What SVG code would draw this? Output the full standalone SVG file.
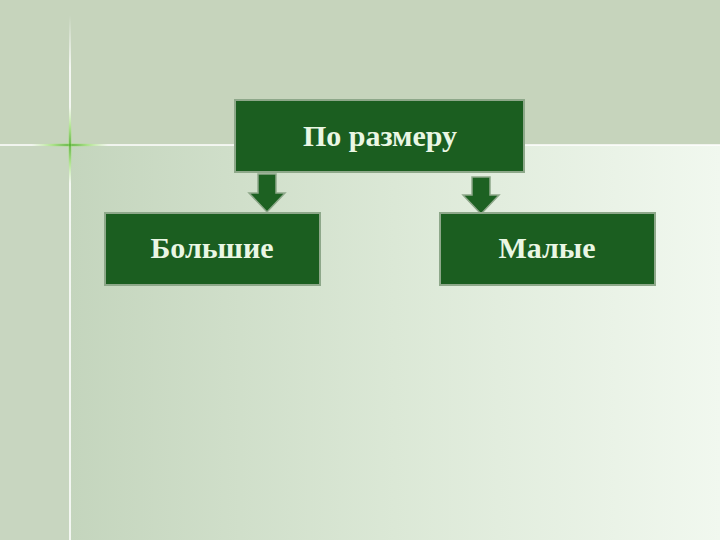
<svg xmlns="http://www.w3.org/2000/svg" width="720" height="540" viewBox="0 0 720 540">
<defs>
<linearGradient id="bg" x1="0" y1="0" x2="1" y2="0">
<stop offset="0" stop-color="#c4d5bd"/>
<stop offset="0.5" stop-color="#dbe8d6"/>
<stop offset="1" stop-color="#f1f8ef"/>
</linearGradient>
<linearGradient id="vl" x1="0" y1="0" x2="0" y2="1">
<stop offset="0" stop-color="#ffffff" stop-opacity="0"/>
<stop offset="0.1" stop-color="#ffffff" stop-opacity="0.8"/>
<stop offset="1" stop-color="#ffffff" stop-opacity="0.8"/>
</linearGradient>
<radialGradient id="glow" cx="0.5" cy="0.5" r="0.5">
<stop offset="0" stop-color="#2e8b1a"/>
<stop offset="0.5" stop-color="#7fd64a" stop-opacity="0.6"/>
<stop offset="1" stop-color="#a8e878" stop-opacity="0"/>
</radialGradient>
<style>
.box{fill:#1b5e20;stroke:#8ea88a;stroke-width:2}
.lbl{font-family:"Liberation Serif","DejaVu Serif",serif;font-size:30px;font-weight:bold;fill:#eaf7e4;text-anchor:middle}
.arr{fill:#1d6122;stroke:#8ea88a;stroke-width:1.5}
</style>
</defs>
<rect x="0" y="0" width="720" height="540" fill="#c6d4bc"/>
<rect x="70" y="145" width="650" height="395" fill="url(#bg)"/>
<rect x="0" y="145" width="70" height="395" fill="#c8d6c0"/>
<rect x="69" y="15" width="2" height="525" fill="url(#vl)"/>
<rect x="0" y="144" width="720" height="2" fill="#ffffff" opacity="0.75"/>
<ellipse cx="70" cy="145" rx="40" ry="2" fill="url(#glow)"/>
<ellipse cx="70" cy="145" rx="2" ry="40" fill="url(#glow)"/>
<g id="connectors">
<path class="arr" d="M258,174 H276 V193 H285 L267,212 L249,193 H258 Z"/>
<path class="arr" d="M472,177 H490 V195 H499 L481,214 L463,195 H472 Z"/>
</g>
<g id="node-top">
<rect class="box" x="235" y="100" width="289" height="72"/>
<text class="lbl" x="380" y="146">По размеру</text>
</g>
<g id="node-left">
<rect class="box" x="105" y="213" width="215" height="72"/>
<text class="lbl" x="212" y="258">Большие</text>
</g>
<g id="node-right">
<rect class="box" x="440" y="213" width="215" height="72"/>
<text class="lbl" x="547" y="258">Малые</text>
</g>
</svg>
